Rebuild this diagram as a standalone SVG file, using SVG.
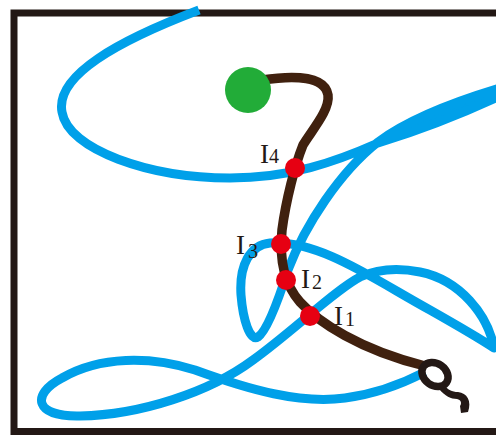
<svg xmlns="http://www.w3.org/2000/svg" width="496" height="435" viewBox="0 0 496 435">
<defs>
<style>
.frame{fill:none;stroke:#231815;stroke-width:7}
.blue{fill:none;stroke:#00a0e9;stroke-width:9;stroke-linejoin:round}
.brown{fill:none;stroke:#40210f;stroke-width:9.5;stroke-linecap:butt}
.dot{fill:#e60012}
.lbl{font-family:"Liberation Serif","Times New Roman",serif;fill:#231815}
.big{font-size:27px}
.sub{font-size:20px}
</style>
</defs>
<rect x="0" y="0" width="496" height="435" fill="#fff"/>
<rect class="frame" x="14" y="13" width="520" height="418.5"/>
<g id="connectors">
<path id="blue-lens" d="M 378 142 C 410 133, 460 115, 506 93 L 500 88 C 460 100, 410 118, 378 142 Z" fill="#00a0e9"/>
<path id="blue-rope" class="blue" d="M 199 10 C 120 40, 55 75, 62 112 C 68 150, 150 178, 230 178 C 290 178, 335 162, 378 143 C 410 133, 460 115, 506 93 C 512 91, 510 85, 500 88 C 460 100, 410 118, 378 142 C 340 172, 305 225, 288 270 C 280 295, 268 330, 258 337 C 250 342, 243 320, 241 295 C 239 265, 250 245, 270 243 C 320 240, 375 280, 430 310 C 460 327, 485 342, 494 348 C 488 315, 460 280, 420 272 C 400 268, 380 268, 360 277 C 335 290, 292 332, 253 360 C 210 392, 140 415, 80 416 C 35 417, 30 395, 62 378 C 100 356, 150 356, 195 370 C 250 390, 300 404, 345 398 C 375 394, 400 385, 425 372"/>
<path id="brown-rope" class="brown" d="M 262 80 C 295 75, 325 76, 328 95 C 330 110, 312 130, 303 145 C 295 165, 286 200, 282 230 C 279 260, 285 285, 300 302 C 318 322, 360 350, 425 366"/>
</g>
<g id="hook">
<ellipse cx="435" cy="374.5" rx="14" ry="11" transform="rotate(35 435 374.5)" fill="none" stroke="#231815" stroke-width="7.5"/>
<path d="M 443 384 C 448 390, 452 392, 458 392 C 467 393, 472 401, 468 412 L 461 413 L 460 406 C 462 403, 461 400, 457 399 C 451 399, 445 396, 439 389 Z" fill="#231815"/>
</g>
<g id="anchor">
<circle cx="248" cy="90" r="23" fill="#22ac38"/>
</g>
<g id="I4">
<circle class="dot" cx="295" cy="168" r="10"/>
<text class="lbl big" x="260" y="163">I</text><text class="lbl sub" x="269" y="163">4</text>
</g>
<g id="I3">
<circle class="dot" cx="281" cy="244" r="10"/>
<text class="lbl big" x="236" y="254">I</text><text class="lbl sub" x="248" y="258">3</text>
</g>
<g id="I2">
<circle class="dot" cx="286" cy="280" r="10"/>
<text class="lbl big" x="301" y="288">I</text><text class="lbl sub" x="312" y="289">2</text>
</g>
<g id="I1">
<circle class="dot" cx="310" cy="316" r="10"/>
<text class="lbl big" x="334" y="325">I</text><text class="lbl sub" x="345" y="326">1</text>
</g>
</svg>
